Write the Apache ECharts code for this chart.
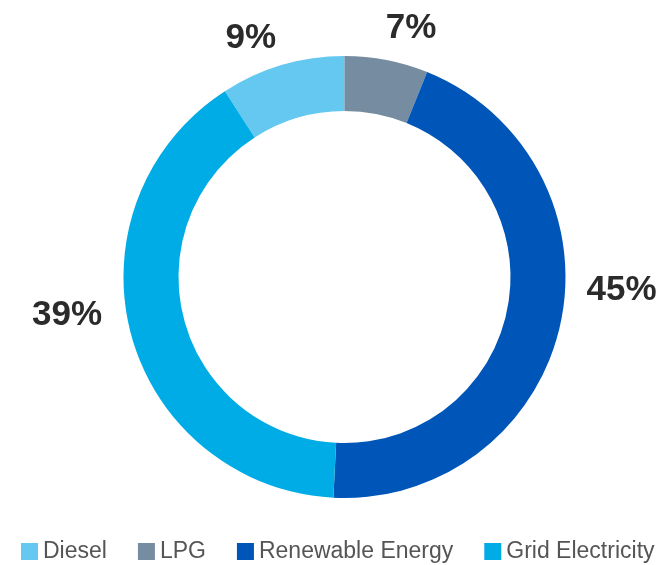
<!DOCTYPE html>
<html>
<head>
<meta charset="utf-8">
<script src="https://cdn.jsdelivr.net/npm/echarts@6/dist/echarts.min.js"></script>
<style>
html,body{margin:0;padding:0;background:#fff;}
#chart{width:668px;height:565px;}
</style>
</head>
<body>
<div id="chart"></div>
<script>
// Data
const categories = ['Diesel', 'LPG', 'Renewable Energy', 'Grid Electricity'];
const values = [9.1, 6.1, 44.7, 40.1];
const labelTexts = ['9%', '7%', '45%', '39%'];

// Styles (kept separate from the data)
const colors = ['#64C8F0', '#768CA0', '#0056B8', '#00ACE6'];
const labelShift = [[3, 4], [-7, 0], [-5, -41], [2, -27]];

const chart = echarts.init(document.getElementById('chart'), null, {renderer: 'canvas'});
const diesel = values[0] / values.reduce((a, b) => a + b, 0);

chart.setOption({
  animation: false,
  color: colors,
  legend: {
    data: categories,
    left: 21,
    top: 540,
    padding: 0,
    itemWidth: 17,
    itemHeight: 17,
    itemGap: 31,
    icon: 'rect',
    textStyle: {
      fontFamily: 'Liberation Sans, Arial, sans-serif',
      fontSize: 23,
      color: '#555555'
    }
  },
  series: [{
    type: 'pie',
    radius: [166, 221],
    center: ['51.57%', '49.03%'],
    startAngle: 90 + diesel * 360,
    clockwise: true,
    avoidLabelOverlap: false,
    label: {
      show: true,
      position: 'outside',
      distanceToLabelLine: 0,
      formatter: p => labelTexts[p.dataIndex],
      fontFamily: 'Liberation Sans, Arial, sans-serif',
      fontWeight: 'bold',
      fontSize: 35,
      color: '#2b2b2b'
    },
    labelLine: { show: false, length: 32, length2: 0 },
    labelLayout: p => ({ dx: labelShift[p.dataIndex][0], dy: labelShift[p.dataIndex][1] }),
    emphasis: { disabled: true },
    data: categories.map((c, i) => ({ name: c, value: values[i] }))
  }]
});
</script>
</body>
</html>
